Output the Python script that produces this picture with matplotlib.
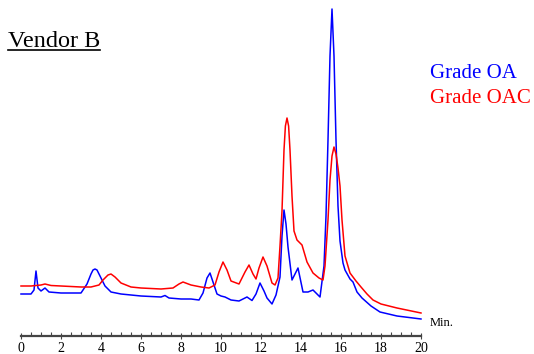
import matplotlib
matplotlib.use("Agg")
import matplotlib.pyplot as plt
from matplotlib.lines import Line2D
from matplotlib.ticker import MultipleLocator

plt.rcParams['font.family'] = ['Liberation Serif', 'DejaVu Serif']

# Chromatogram traces (time in min, signal in arbitrary units)
oa_time = [0.0, 0.5, 0.65, 0.75, 0.85, 1.0, 1.2, 1.4, 2.0, 3.0, 3.3, 3.5, 3.6, 3.7,
           3.8, 3.9, 4.2, 4.5, 5.0, 6.0, 7.0, 7.2, 7.4, 8.0, 8.5, 8.9, 9.1, 9.3,
           9.45, 9.6, 9.8, 10.0, 10.2, 10.5, 10.9, 11.3, 11.55, 11.75, 11.95,
           12.15, 12.3, 12.55, 12.75, 12.95, 13.05, 13.15, 13.25, 13.35, 13.55,
           13.7, 13.85, 14.1, 14.35, 14.6, 14.95, 15.15, 15.25, 15.35, 15.45,
           15.55, 15.65, 15.75, 15.85, 15.95, 16.1, 16.2, 16.45, 16.6, 16.8,
           17.05, 17.5, 17.95, 18.8, 20.0]
oa_signal = [42, 42, 46, 65, 48, 45, 48, 44, 43, 43, 52, 62, 66, 67,
             66, 62, 50, 44, 42, 40, 39, 40.5, 38, 37, 37, 36, 43, 58,
             63, 54, 42, 40, 39, 36, 35, 39, 35.5, 42, 53,
             45, 38, 32, 41, 59, 100, 126, 112, 89, 56,
             62, 68, 44, 44, 46, 39, 70, 120, 196, 280,
             327, 280, 196, 130, 95, 73, 66, 57, 54, 44,
             38, 30, 24, 20, 17]

oac_time = [0.0, 0.5, 1.0, 1.2, 1.5, 2.0, 3.0, 3.5, 3.9, 4.1, 4.35, 4.5, 4.7,
            5.0, 5.5, 6.0, 7.0, 7.6, 7.9, 8.1, 8.5, 9.0, 9.4, 9.7, 9.9, 10.1,
            10.3, 10.5, 10.9, 11.2, 11.4, 11.6, 11.75, 11.9, 12.1, 12.3, 12.55,
            12.7, 12.85, 12.95, 13.05, 13.15, 13.22, 13.3, 13.38, 13.45, 13.55,
            13.65, 13.8, 14.05, 14.3, 14.6, 14.9, 15.1, 15.2, 15.35, 15.45, 15.55,
            15.65, 15.75, 15.85, 15.95, 16.05, 16.2, 16.45, 16.75, 17.0, 17.3,
            17.6, 18.0, 18.8, 20.0]
oac_signal = [50, 50, 51, 52, 50.5, 50, 49, 49, 51, 56, 61, 62, 59,
              53, 49, 48, 47, 48, 52, 54, 51, 49, 48, 51, 64, 74,
              66, 55, 52, 64, 71, 62, 57, 68, 79, 70, 53,
              51, 58, 90, 125, 186, 210, 218, 210, 186, 140,
              105, 96, 91, 74, 63, 58, 56, 70, 116, 156, 180,
              189, 182, 168, 150, 116, 80, 63, 55, 49, 42,
              36, 32, 28, 23]

W, H = 534, 354
fig = plt.figure(figsize=(W / 100, H / 100), dpi=100)
ax = fig.add_axes([21 / W, 18 / H, 400 / W, 336 / H])

ax.plot(oa_time, oa_signal, color='#0000ff', lw=1.1, clip_on=False)
ax.plot(oac_time, oac_signal, color='#ff0000', lw=1.1, clip_on=False)

ax.set_xlim(0, 20)
ax.set_ylim(0, 336)
for s in ['top', 'right', 'left']:
    ax.spines[s].set_visible(False)
ax.spines['bottom'].set_color('#444444')
ax.spines['bottom'].set_linewidth(1.6)
ax.set_yticks([])
ax.xaxis.set_major_locator(MultipleLocator(2))
ax.xaxis.set_minor_locator(MultipleLocator(0.5))
ax.tick_params(axis='x', which='major', direction='inout', length=5, width=0.8,
               color='#444444', labelsize=10, pad=1.5)
ax.tick_params(axis='x', which='minor', direction='in', length=3, width=0.8,
               color='#444444')

fig.text(430 / W, 1 - 323 / H, 'Min.', fontsize=9, va='center', ha='left')
fig.text(430 / W, 1 - 73 / H, 'Grade OA', color='#0000ff', fontsize=15,
         va='center', ha='left')
fig.text(430 / W, 1 - 99 / H, 'Grade OAC', color='#ff0000', fontsize=15,
         va='center', ha='left')

# title with underline
fig.text(8 / W, 1 - 47 / H, 'Vendor B', fontsize=17.5, va='baseline', ha='left')
fig.add_artist(Line2D([8 / W, 100 / W], [1 - 50 / H, 1 - 50 / H],
                      transform=fig.transFigure, color='black', lw=1.2))

fig.savefig('out.png', dpi=100)
